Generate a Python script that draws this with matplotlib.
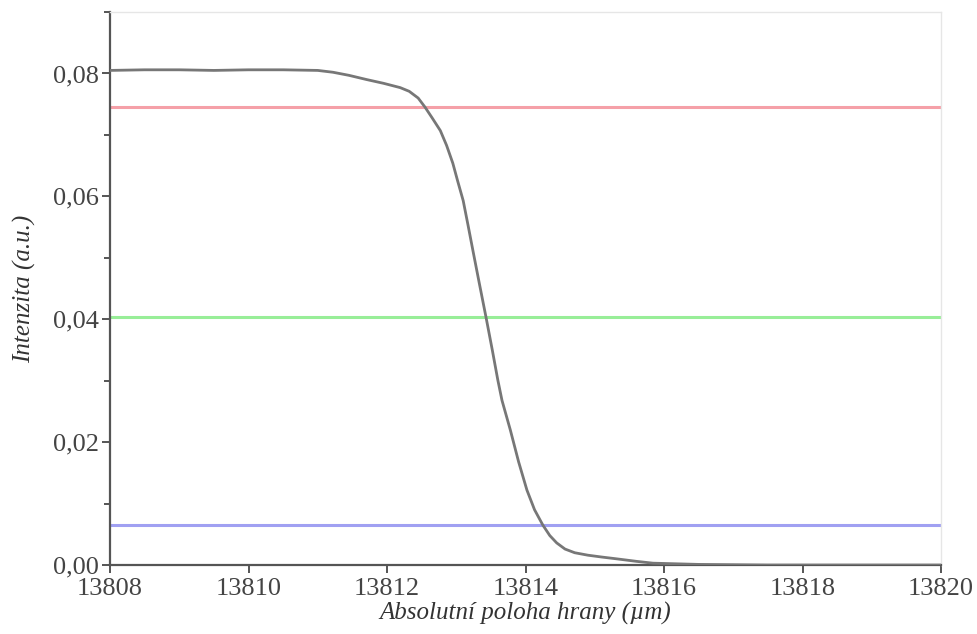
import matplotlib
matplotlib.use('Agg')
import matplotlib.pyplot as plt
from matplotlib.ticker import FuncFormatter, MultipleLocator

# edge profile
pos = [13808.0, 13808.5, 13809.0, 13809.5, 13810.0, 13810.5, 13811.0, 13811.22,
       13811.45, 13811.71, 13811.95, 13812.19, 13812.32, 13812.45, 13812.55,
       13812.65, 13812.77, 13812.86, 13812.95, 13813.02, 13813.10, 13813.17,
       13813.24, 13813.33, 13813.43, 13813.52, 13813.60, 13813.66, 13813.78,
       13813.90, 13814.02, 13814.13, 13814.25, 13814.35, 13814.45, 13814.57,
       13814.71, 13814.90, 13815.10, 13815.32, 13815.60, 13815.84, 13816.5,
       13817.5, 13818.5, 13820.0]
intensity = [0.0805, 0.0806, 0.0806, 0.0805, 0.0806, 0.0806, 0.0805, 0.0802,
             0.0797, 0.0790, 0.0784, 0.0777, 0.0771, 0.0760, 0.0745,
             0.0728, 0.0707, 0.0683, 0.0654, 0.0625, 0.0593, 0.0553,
             0.0512, 0.0460, 0.0403, 0.0350, 0.0301, 0.0268, 0.0220,
             0.0168, 0.0122, 0.0090, 0.0065, 0.0048, 0.0036, 0.0026,
             0.0020, 0.0016, 0.0013, 0.0010, 0.0006, 0.0003, 0.0001,
             0.0, 0.0, 0.0]

# threshold levels
levels = [0.0745, 0.0404, 0.0065]
level_colors = ['#f5a0a8', '#98ee98', '#a0a0f2']

xticks = [13808, 13810, 13812, 13814, 13816, 13818, 13820]

plt.rcParams['font.family'] = ['Liberation Serif', 'DejaVu Serif']

fig = plt.figure(figsize=(9.77, 6.34), dpi=100)
ax = fig.add_axes([0.1126, 0.1088, 0.8506, 0.8722])

for lvl, c in zip(levels, level_colors):
    ax.plot([xticks[0], xticks[-1]], [lvl, lvl], color=c, lw=2.2, zorder=2)

ax.plot(pos, intensity, color='#777777', lw=2.0, zorder=3,
        solid_joinstyle='round')

ax.set_xlim(13808, 13820)
ax.set_ylim(0, 0.09)
ax.set_xticks(xticks)
ax.yaxis.set_major_locator(MultipleLocator(0.02))
ax.yaxis.set_minor_locator(MultipleLocator(0.01))
ax.yaxis.set_major_formatter(FuncFormatter(lambda v, p: f'{v:.2f}'.replace('.', ',')))

for s in ['left', 'bottom']:
    ax.spines[s].set_color('#555555')
    ax.spines[s].set_linewidth(1.6)
for s in ['top', 'right']:
    ax.spines[s].set_color('#e6e6e6')
    ax.spines[s].set_linewidth(1.0)

ax.tick_params(axis='both', which='major', direction='out', length=6, width=1.4,
               color='#555555', labelsize=19, labelcolor='#444444', pad=2)
ax.tick_params(axis='y', which='minor', direction='out', length=4, width=1.4,
               color='#555555')
ax.tick_params(axis='x', pad=3)

ax.set_xlabel('Absolutní poloha hrany (µm)', fontsize=18, style='italic',
              color='#333333', labelpad=2)
ax.set_ylabel('Intenzita (a.u.)', fontsize=18, style='italic',
              color='#333333', labelpad=12)

fig.savefig('out.png', dpi=100)
